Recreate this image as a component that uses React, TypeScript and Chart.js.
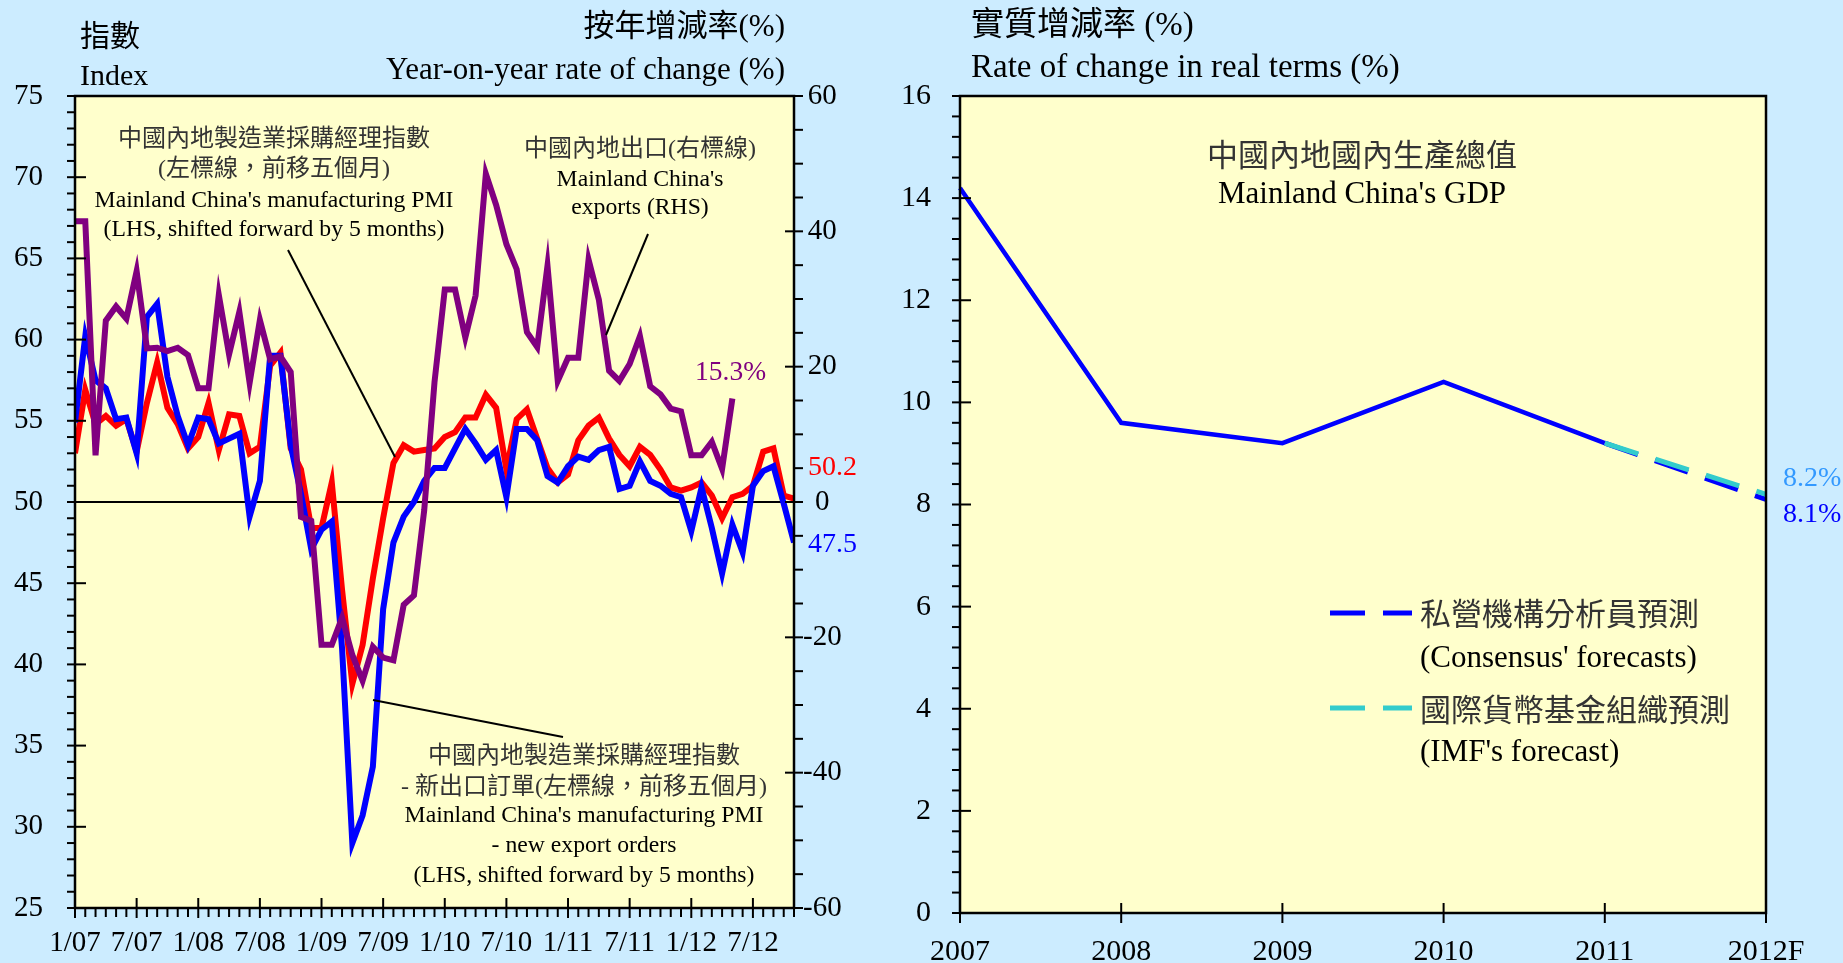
import React, { useEffect, useRef } from 'react';
import { Chart, registerables } from 'chart.js';

Chart.register(...registerables);

// ---------------- Left chart data ----------------
// x positions are month indices starting at Jan 2007 (0) through Nov 2012 (70)
const monthTickPositions = [0, 6, 12, 18, 24, 30, 36, 42, 48, 54, 60, 66];
const monthTickLabels = ['1/07', '7/07', '1/08', '7/08', '1/09', '7/09', '1/10', '7/10', '1/11', '7/11', '1/12', '7/12'];
const monthMax = 70;

// Manufacturing PMI, shifted forward by 5 months (LHS)
const pmiShifted = [
  53.0, 56.9, 54.8, 55.3, 54.7, 55.1, 53.1, 56.1, 58.6, 55.8, 54.8, 53.3,
  54.0, 56.1, 53.2, 55.4, 55.3, 53.0, 53.4, 58.4, 59.2, 53.3, 52.0, 48.4,
  48.4, 51.2, 44.6, 38.8, 41.2, 45.3, 49.0, 52.4, 53.5, 53.1, 53.2, 53.3,
  54.0, 54.3, 55.2, 55.2, 56.6, 55.8, 52.0, 55.1, 55.7, 53.9, 52.1, 51.2,
  51.7, 53.8, 54.7, 55.2, 53.9, 52.9, 52.2, 53.4, 52.9, 52.0, 50.9, 50.7,
  50.9, 51.2, 50.4, 49.0, 50.3, 50.5, 51.0, 53.1, 53.3, 50.4, 50.2,
];

// Manufacturing PMI - new export orders, shifted forward by 5 months (LHS)
const newExportOrdersShifted = [
  54.9, 60.2, 57.5, 57.0, 55.1, 55.2, 53.0, 61.4, 62.2, 57.7, 55.3, 53.5,
  55.2, 55.1, 53.6, 53.9, 54.2, 49.1, 51.3, 59.0, 59.0, 53.5, 50.5, 47.1,
  48.3, 48.8, 41.0, 29.0, 30.7, 33.7, 43.4, 47.5, 49.1, 50.0, 51.3, 52.1,
  52.1, 53.3, 54.5, 53.6, 52.6, 53.2, 50.3, 54.5, 54.5, 53.8, 51.6, 51.2,
  52.2, 52.8, 52.6, 53.2, 53.4, 50.8, 51.0, 52.5, 51.3, 51.0, 50.5, 50.3,
  48.2, 50.9, 48.4, 45.6, 48.6, 46.9, 51.0, 51.9, 52.2, 49.9, 47.5,
];

// Mainland China's exports, year-on-year % (RHS)
const exportsYoY = [
  41.5, 41.5, 6.9, 26.8, 28.9, 27.1, 34.1, 22.7, 22.8, 22.3, 22.8, 21.7,
  16.8, 16.8, 30.6, 21.8, 28.1, 17.6, 26.9, 21.1, 21.5, 19.2, -2.2, -2.8,
  -21.1, -21.1, -17.1, -22.6, -26.4, -21.4, -23.0, -23.4, -15.2, -13.8, -1.2, 17.7,
  31.4, 31.4, 24.3, 30.5, 48.5, 43.9, 38.1, 34.4, 25.1, 22.9, 34.9, 17.9,
  21.3, 21.3, 35.8, 29.9, 19.4, 17.9, 20.4, 24.5, 17.1, 15.9, 13.8, 13.4,
  6.9, 6.9, 8.9, 4.9, 15.3,
];

// ---------------- Right chart data ----------------
const gdpYears = ['2007', '2008', '2009', '2010', '2011', '2012F'];
const gdpActual = [14.2, 9.6, 9.2, 10.4, 9.2, null];
const gdpConsensus = [null, null, null, null, 9.2, 8.1];
const gdpImf = [null, null, null, null, 9.2, 8.2];

// ---------------- Styling ----------------
const SERIF = '"Liberation Serif", "Times New Roman", "Noto Sans CJK TC", serif';
const PAGE_BG = '#CCECFF';
const PLOT_BG = '#FFFFCC';
const CJK_COLOR = '#333';
const RIGHT_CANVAS_X = 900;

function txt(ctx: CanvasRenderingContext2D, s: string, x: number, y: number, size: number, color: string, align: CanvasTextAlign = 'left', baseline: CanvasTextBaseline = 'middle') {
  ctx.font = `${size}px ${SERIF}`;
  ctx.fillStyle = color;
  ctx.textAlign = align;
  ctx.textBaseline = baseline;
  ctx.fillText(s, x, y);
}

function seg(ctx: CanvasRenderingContext2D, x1: number, y1: number, x2: number, y2: number, w: number, color = '#000') {
  ctx.strokeStyle = color;
  ctx.lineWidth = w;
  ctx.beginPath();
  ctx.moveTo(x1, y1);
  ctx.lineTo(x2, y2);
  ctx.stroke();
}

const leftDecor = {
  id: 'leftDecor',
  beforeDatasetsDraw(chart: any) {
    const { ctx, chartArea: a, scales } = chart;
    ctx.save();
    ctx.fillStyle = PLOT_BG;
    ctx.fillRect(a.left, a.top, a.right - a.left, a.bottom - a.top);
    const y50 = scales.yL.getPixelForValue(50);
    seg(ctx, a.left, y50, a.right, y50, 2);
    ctx.restore();
  },
  afterDatasetsDraw(chart: any) {
    const { ctx, chartArea: a, scales } = chart;
    ctx.save();
    // border
    ctx.strokeStyle = '#000';
    ctx.lineWidth = 2.5;
    ctx.strokeRect(a.left, a.top, a.right - a.left, a.bottom - a.top);
    // left axis ticks
    for (let v = 25; v <= 75; v++) {
      const y = scales.yL.getPixelForValue(v);
      seg(ctx, a.left - 8, y, v % 5 === 0 ? a.left + 11 : a.left, y, 2);
    }
    // right axis ticks
    for (let v = -60; v <= 60; v += 5) {
      const y = scales.yR.getPixelForValue(v);
      seg(ctx, v % 20 === 0 ? a.right - 9 : a.right, y, a.right + 9, y, 2);
    }
    // x axis ticks (monthly)
    for (let m = 0; m <= monthMax; m++) {
      const x = scales.x.getPixelForValue(m);
      const major = m % 6 === 0;
      seg(ctx, x, major ? a.bottom - 10 : a.bottom, x, major ? a.bottom + 10 : a.bottom + 9, 2);
    }
    // leader lines
    seg(ctx, 288, 250, 395, 457, 2);
    seg(ctx, 648, 234, 606, 335, 2);
    seg(ctx, 373, 700, 563, 737, 2);
    // titles
    txt(ctx, '指數', 80, 38, 30, '#000');
    txt(ctx, 'Index', 80, 85, 30, '#000', 'left', 'alphabetic');
    txt(ctx, '按年增減率(%)', 785, 28, 31, '#000', 'right');
    txt(ctx, 'Year-on-year rate of change (%)', 785, 79, 31, '#000', 'right', 'alphabetic');
    // annotation: PMI
    txt(ctx, '中國內地製造業採購經理指數', 274, 140, 24, CJK_COLOR, 'center');
    txt(ctx, '(左標線，前移五個月)', 274, 170, 24, CJK_COLOR, 'center');
    txt(ctx, "Mainland China's manufacturing PMI", 274, 201, 23.7, '#000', 'center');
    txt(ctx, '(LHS, shifted forward by 5 months)', 274, 230, 23.7, '#000', 'center');
    // annotation: exports
    txt(ctx, '中國內地出口(右標線)', 640, 150, 24, CJK_COLOR, 'center');
    txt(ctx, "Mainland China's", 640, 180, 23.7, '#000', 'center');
    txt(ctx, 'exports (RHS)', 640, 208, 23.7, '#000', 'center');
    // annotation: new export orders
    txt(ctx, '中國內地製造業採購經理指數', 584, 757, 24, CJK_COLOR, 'center');
    txt(ctx, '- 新出口訂單(左標線，前移五個月)', 584, 788, 24, CJK_COLOR, 'center');
    txt(ctx, "Mainland China's manufacturing PMI", 584, 816, 23.7, '#000', 'center');
    txt(ctx, '- new export orders', 584, 846, 23.7, '#000', 'center');
    txt(ctx, '(LHS, shifted forward by 5 months)', 584, 876, 23.7, '#000', 'center');
    // end value labels
    txt(ctx, `${exportsYoY[exportsYoY.length - 1]}%`, 695, 373, 27.5, '#800080');
    txt(ctx, `${pmiShifted[pmiShifted.length - 1]}`, 808, 468, 28, '#FF0000');
    txt(ctx, `${newExportOrdersShifted[newExportOrdersShifted.length - 1]}`, 808, 545, 28, '#0000FF');
    ctx.restore();
  },
};

const rightDecor = {
  id: 'rightDecor',
  beforeDatasetsDraw(chart: any) {
    const { ctx, chartArea: a } = chart;
    ctx.save();
    ctx.fillStyle = PLOT_BG;
    ctx.fillRect(a.left, a.top, a.right - a.left, a.bottom - a.top);
    ctx.restore();
  },
  afterDatasetsDraw(chart: any) {
    const { ctx, chartArea: a, scales } = chart;
    const ox = RIGHT_CANVAS_X;
    ctx.save();
    ctx.strokeStyle = '#000';
    ctx.lineWidth = 2.5;
    ctx.strokeRect(a.left, a.top, a.right - a.left, a.bottom - a.top);
    for (let k = 0; k <= 40; k++) {
      const y = scales.y.getPixelForValue(k * 0.4);
      seg(ctx, a.left - 8, y, k % 5 === 0 ? a.left + 11 : a.left, y, 2);
    }
    for (let i = 0; i < gdpYears.length; i++) {
      const x = scales.x.getPixelForValue(i);
      seg(ctx, x, a.bottom - 10, x, a.bottom + 10, 2);
    }
    // titles
    txt(ctx, '實質增減率 (%)', 971 - ox, 26, 33, '#000');
    txt(ctx, 'Rate of change in real terms (%)', 971 - ox, 77, 33, '#000', 'left', 'alphabetic');
    txt(ctx, '中國內地國內生產總值', 1362 - ox, 158, 31, CJK_COLOR, 'center');
    txt(ctx, "Mainland China's GDP", 1362 - ox, 203, 31, '#000', 'center', 'alphabetic');
    // legend
    ctx.setLineDash([35, 18]);
    seg(ctx, 1330 - ox, 613, 1412 - ox, 613, 5, '#0000FF');
    seg(ctx, 1330 - ox, 708, 1412 - ox, 708, 5, '#33CCCC');
    ctx.setLineDash([]);
    txt(ctx, '私營機構分析員預測', 1420 - ox, 617, 31, CJK_COLOR);
    txt(ctx, "(Consensus' forecasts)", 1420 - ox, 667, 31, '#000', 'left', 'alphabetic');
    txt(ctx, '國際貨幣基金組織預測', 1420 - ox, 713, 31, CJK_COLOR);
    txt(ctx, "(IMF's forecast)", 1420 - ox, 761, 31, '#000', 'left', 'alphabetic');
    // end labels
    txt(ctx, `${gdpImf[gdpImf.length - 1]}%`, 1783 - ox, 479, 28, '#3399FF');
    txt(ctx, `${gdpConsensus[gdpConsensus.length - 1]}%`, 1783 - ox, 515, 28, '#0000FF');
    ctx.restore();
  },
};

function makeLeftConfig(): any {
  const tickFont = { family: SERIF, size: 29 };
  const hidden = { display: false, drawTicks: false };
  return {
    type: 'line',
    data: {
      datasets: [
        {
          label: 'exports',
          data: exportsYoY.map((v, i) => ({ x: i, y: v })),
          yAxisID: 'yR',
          borderColor: '#800080',
          borderWidth: 6,
          pointRadius: 0,
          tension: 0,
        },
        {
          label: 'new export orders',
          data: newExportOrdersShifted.map((v, i) => ({ x: i, y: v })),
          yAxisID: 'yL',
          borderColor: '#0000FF',
          borderWidth: 6,
          pointRadius: 0,
          tension: 0,
        },
        {
          label: 'pmi',
          data: pmiShifted.map((v, i) => ({ x: i, y: v })),
          yAxisID: 'yL',
          borderColor: '#FF0000',
          borderWidth: 6,
          pointRadius: 0,
          tension: 0,
        },
      ],
    },
    options: {
      responsive: false,
      animation: false,
      layout: { padding: { top: 96, left: 0, right: 0, bottom: 0 } },
      plugins: { legend: { display: false }, tooltip: { enabled: false } },
      scales: {
        x: {
          type: 'linear',
          min: 0,
          max: monthMax,
          grid: hidden,
          border: { display: false },
          afterBuildTicks: (s: any) => {
            s.ticks = monthTickPositions.map((v) => ({ value: v }));
          },
          afterFit: (s: any) => {
            s.height = 55;
          },
          ticks: {
            autoSkip: false,
            maxRotation: 0,
            padding: 18,
            font: tickFont,
            color: '#000',
            callback: (v: number) => {
              const k = monthTickPositions.indexOf(v);
              return k >= 0 ? monthTickLabels[k] : '';
            },
          },
        },
        yL: {
          type: 'linear',
          position: 'left',
          min: 25,
          max: 75,
          grid: hidden,
          border: { display: false },
          afterFit: (s: any) => {
            s.width = 75;
          },
          ticks: { stepSize: 5, padding: 32, font: tickFont, color: '#000' },
        },
        yR: {
          type: 'linear',
          position: 'right',
          min: -60,
          max: 60,
          grid: hidden,
          border: { display: false },
          afterFit: (s: any) => {
            s.width = 106;
          },
          ticks: { stepSize: 20, padding: 9, crossAlign: 'center', font: tickFont, color: '#000' },
        },
      },
    },
    plugins: [leftDecor],
  };
}

function makeRightConfig(): any {
  const tickFont = { family: SERIF, size: 30 };
  const hidden = { display: false, drawTicks: false };
  return {
    type: 'line',
    data: {
      labels: gdpYears,
      datasets: [
        {
          label: "IMF's forecast",
          data: gdpImf,
          borderColor: '#33CCCC',
          borderWidth: 5,
          borderDash: [35, 18],
          pointRadius: 0,
          tension: 0,
        },
        {
          label: "Consensus' forecasts",
          data: gdpConsensus,
          borderColor: '#0000FF',
          borderWidth: 5,
          borderDash: [35, 18],
          pointRadius: 0,
          tension: 0,
        },
        {
          label: "Mainland China's GDP",
          data: gdpActual,
          borderColor: '#0000FF',
          borderWidth: 4.5,
          pointRadius: 0,
          tension: 0,
        },
      ],
    },
    options: {
      responsive: false,
      animation: false,
      layout: { padding: { top: 96, left: 0, right: 77, bottom: 0 } },
      plugins: { legend: { display: false }, tooltip: { enabled: false } },
      scales: {
        x: {
          type: 'category',
          offset: false,
          grid: hidden,
          border: { display: false },
          afterFit: (s: any) => {
            s.height = 50;
          },
          ticks: { autoSkip: false, maxRotation: 0, padding: 21, font: tickFont, color: '#000' },
        },
        y: {
          type: 'linear',
          min: 0,
          max: 16,
          grid: hidden,
          border: { display: false },
          afterFit: (s: any) => {
            s.width = 60;
          },
          ticks: { stepSize: 2, padding: 29, font: tickFont, color: '#000' },
        },
      },
    },
    plugins: [rightDecor],
  };
}

export default function App() {
  const leftRef = useRef<HTMLCanvasElement>(null);
  const rightRef = useRef<HTMLCanvasElement>(null);

  useEffect(() => {
    if (!leftRef.current || !rightRef.current) return;
    const c1 = new Chart(leftRef.current, makeLeftConfig());
    const c2 = new Chart(rightRef.current, makeRightConfig());
    return () => {
      c1.destroy();
      c2.destroy();
    };
  }, []);

  return (
    <div style={{ position: 'fixed', left: 0, top: 0, width: 1843, height: 963, background: PAGE_BG, overflow: 'hidden' }}>
      <canvas ref={leftRef} width={900} height={963} style={{ position: 'absolute', left: 0, top: 0, width: 900, height: 963 }} />
      <canvas ref={rightRef} width={943} height={963} style={{ position: 'absolute', left: RIGHT_CANVAS_X, top: 0, width: 943, height: 963 }} />
    </div>
  );
}
